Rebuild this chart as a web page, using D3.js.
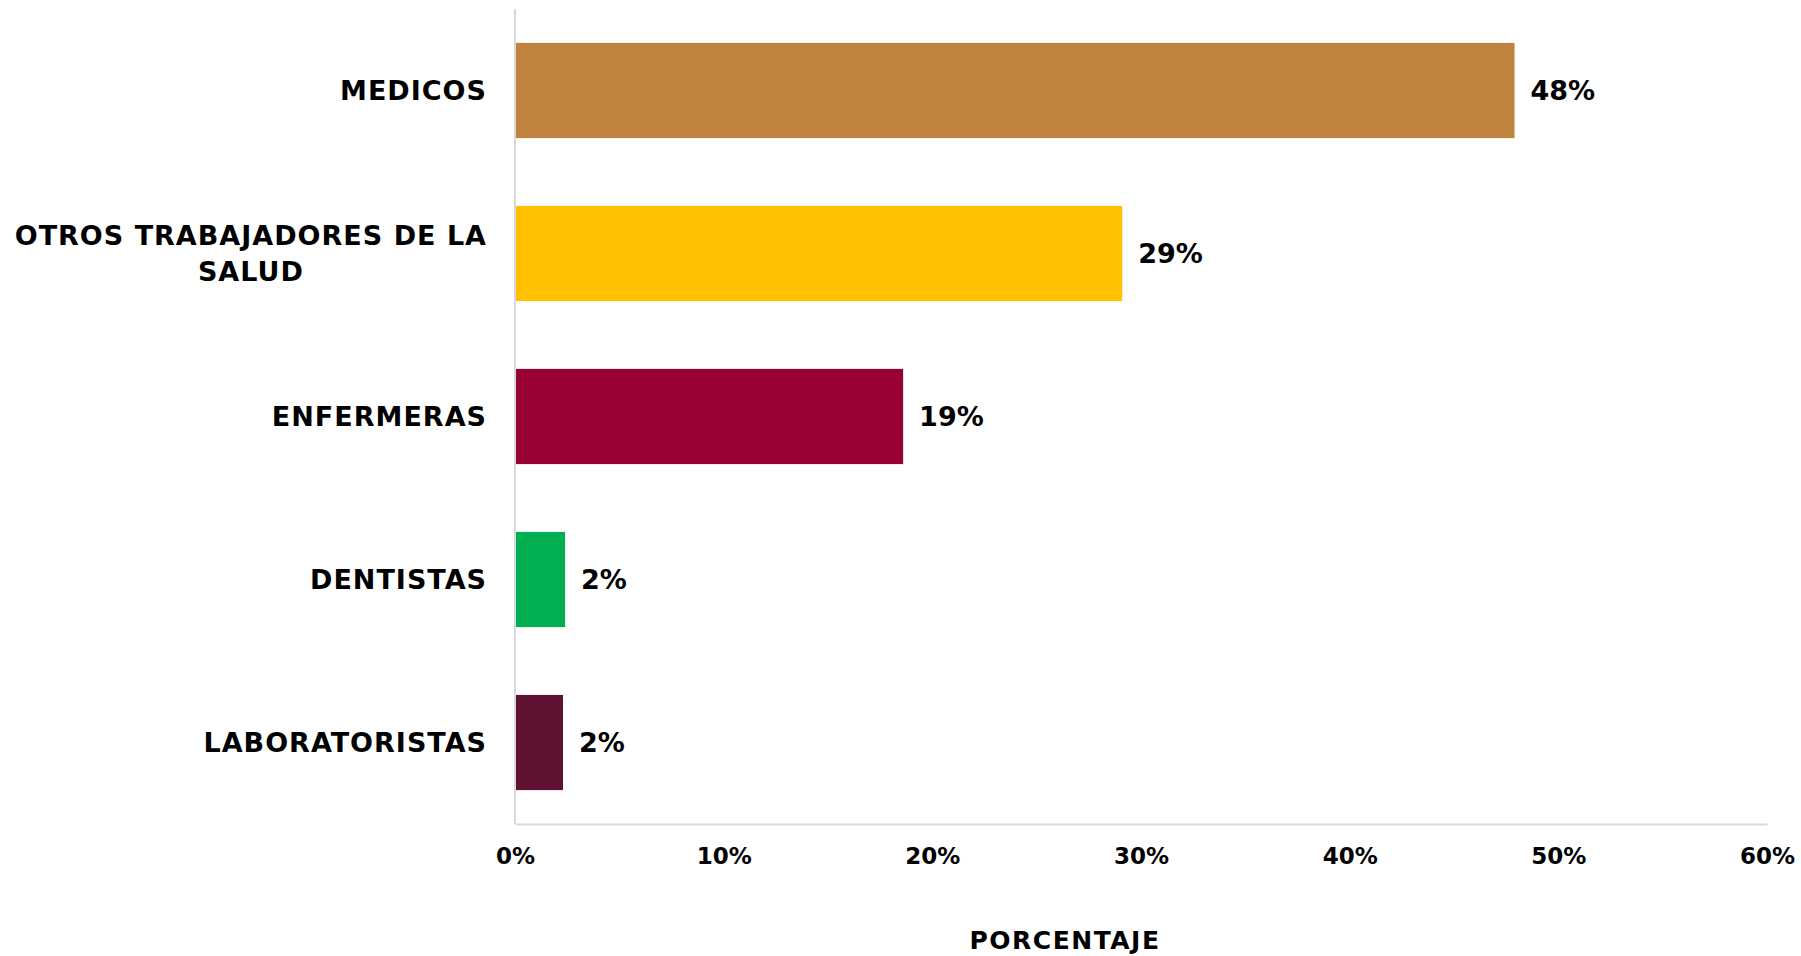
<!DOCTYPE html>
<html>
<head>
<meta charset="utf-8">
<script src="https://cdn.jsdelivr.net/npm/d3@7"></script>
<style>
  body { margin: 0; background: #fff; }
  text { font-family: "DejaVu Sans", sans-serif; font-weight: bold; fill: #000; }
</style>
</head>
<body>
<svg id="chart" width="1801" height="956" viewBox="0 0 1801 956"></svg>
<script>
// data
let categories = ["MEDICOS", "OTROS TRABAJADORES DE LA SALUD", "ENFERMERAS", "DENTISTAS", "LABORATORISTAS"];
let values = [47.9, 29.1, 18.6, 2.4, 2.3];
let valueLabels = ["48%", "29%", "19%", "2%", "2%"];
let colors = ["#C0823F", "#FFC000", "#990033", "#00B050", "#611232"];
let ticks = [0, 10, 20, 30, 40, 50, 60];
let axisTitle = "PORCENTAJE";

function makeBars(id){
    let svg = d3.select("#" + id);
    let totalWidth = 1801;
    let totalHeight = 956;

    let margins = {top: 9, right: 34, bottom: 132, left: 515};
    let innerWidth = totalWidth - margins.left - margins.right;
    let innerHeight = totalHeight - margins.top - margins.bottom;

    let x = d3.scaleLinear([0, 60], [0, innerWidth]);
    let y = d3.scaleBand(categories, [0, innerHeight]).paddingInner(0.416).paddingOuter(0.208);

    let chart = svg.append("g")
        .attr("transform", `translate(${margins.left},${margins.top})`);

    // bars
    chart.selectAll(".bar")
        .data(categories)
        .enter().append("rect")
        .attr("class", "bar")
        .attr("x", 0)
        .attr("y", d => y(d))
        .attr("width", (d,i) => x(values[i]))
        .attr("height", y.bandwidth())
        .attr("fill", (d,i) => colors[i]);

    // axis lines
    chart.append("line")
        .attr("x1", 0).attr("x2", 0)
        .attr("y1", 0).attr("y2", innerHeight)
        .attr("stroke", "#d9d9d9").attr("stroke-width", 2);

    let xAxis = chart.append("g")
        .attr("transform", `translate(0,${innerHeight})`)
        .call(d3.axisBottom(x).tickValues(ticks).tickSize(0).tickPadding(24).tickFormat(d => d + "%"));
    xAxis.select(".domain").attr("stroke", "#d9d9d9").attr("stroke-width", 2);
    xAxis.selectAll("text")
        .style("font-family", "'DejaVu Sans', sans-serif")
        .style("font-weight", "bold")
        .style("font-size", "23px")
        .attr("fill", "#000");

    // value labels
    chart.selectAll(".val")
        .data(categories)
        .enter().append("text")
        .attr("class", "val")
        .attr("x", (d,i) => x(values[i]) + 16)
        .attr("y", d => y(d) + y.bandwidth() / 2)
        .attr("dy", "0.36em")
        .style("font-size", "27px")
        .text((d,i) => valueLabels[i]);

    // category labels, wrapped and centred like the original
    let labelRight = -29;
    let lines = [["MEDICOS"], ["OTROS TRABAJADORES DE LA", "SALUD"], ["ENFERMERAS"], ["DENTISTAS"], ["LABORATORISTAS"]];
    categories.forEach((c, i) => {
        let parts = lines[i];
        let lh = 36;
        let cy = y(c) + y.bandwidth() / 2;
        let g = chart.append("g");
        let texts = parts.map((p, k) => g.append("text")
            .attr("y", cy + (k - (parts.length - 1) / 2) * lh)
            .attr("dy", "0.36em")
            .style("font-size", "27px")
            .style("letter-spacing", "1px")
            .text(p));
        let widest = d3.max(texts, t => t.node().getComputedTextLength() - 1);
        texts.forEach(t => {
            let w = t.node().getComputedTextLength() - 1;
            t.attr("x", labelRight - widest / 2 - w / 2);
        });
    });

    // axis title
    svg.append("text")
        .attr("x", 1065)
        .attr("y", 949)
        .attr("text-anchor", "middle")
        .style("font-size", "25px")
        .style("letter-spacing", "1.5px")
        .text(axisTitle);
}

makeBars("chart");
</script>
</body>
</html>
